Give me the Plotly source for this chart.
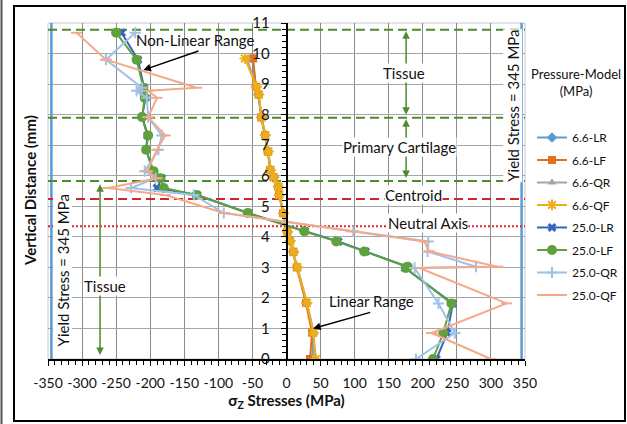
import plotly.graph_objects as go

# ---------------- data ----------------
x_tick_vals = [-350, -300, -250, -200, -150, -100, -50, 0, 50, 100, 150, 200, 250, 300, 350]
x_tick_text = ["-350", "-300", "-250", "-200", "-150", "-100", "-50", "0", "50", "100", "150", "200", "250", "300", "350"]
y_tick_vals = [0, 1, 2, 3, 4, 5, 6, 7, 8, 9, 10, 11]

# 6.6 MPa models (vertical distance, mm)
y_66 = [0, 0.86, 1.84, 3.0, 3.51, 3.86, 4.17, 4.77, 5.37, 5.64, 5.95, 6.19, 6.79, 7.33, 7.91, 8.66, 8.91, 9.84]
s_66_LR = [38, 39, 29, 15.5, 10.5, 5.5, 1.5, -4.5, -10.5, -12.5, -18.5, -23.5, -27, -31.5, -37, -41.5, -45, -50]
s_66_LF = [34.5, 37.5, 28.5, 15, 10, 5, 1, -5, -11, -12, -19, -24, -27.5, -31.5, -37, -41, -45, -49]
s_66_QR = [40, 40, 30, 16, 10.5, 5.5, 1.5, -4.5, -10.5, -12, -18.5, -23.5, -27, -31, -36.5, -41, -44.5, -58]
s_66_QF = [43, 39.5, 30, 16, 10.5, 5.5, 1.5, -4.5, -10.5, -12, -18.5, -23.5, -26.5, -31, -36.5, -40.5, -44, -61]

# 25.0 MPa models
y_25 = [0, 0.85, 1.82, 2.98, 3.02, 3.52, 3.85, 4.18, 4.78, 5.37, 5.6, 5.92, 6.15, 6.85, 7.32, 7.92, 8.55, 8.78, 8.88, 9.8, 10.68]
s_25_LR = [220, 236, 244, 174, 177, 116, 76, 27, -56, -131, -190, -183, -196, -206, -204, -212, -207, -210, -209, -218, -242]
s_25_LF = [215, 230, 242, 175, 178, 114, 73, 26, -57, -132, -180, -185, -195, -206, -203, -212, -208, -211, -210, -220, -250]
s_25_QR = [190, 247, 223, 188, 278, 207, 208, 98, -92, -136, -228, -192, -208, -188, -183, -203, -205, -220, -212, -265, -222]
s_25_QF = [300, 213, 323, 195, 310, 210, 202, 95, -92, -178, -262, -190, -204, -190, -178, -203, -190, -203, -132, -265, -308]

series_names = ["6.6-LR", "6.6-LF", "6.6-QR", "6.6-QF", "25.0-LR", "25.0-LF", "25.0-QR", "25.0-QF"]

# reference levels
yield_stress = 345
region_lines = [10.78, 7.90, 5.83]
centroid_y = 5.24
neutral_y = 4.35

# ---------------- styles ----------------
FONT = "Lato"
styles = [
    dict(color="#5B9BD5", symbol="diamond", size=8),
    dict(color="#E0701E", symbol="square", size=8),
    dict(color="#A5A5A5", symbol="triangle-up", size=8),
    dict(color="#EEAE1A", symbol="asterisk-open", size=9),
    dict(color="#3863BC", symbol="x", size=8),
    dict(color="#5FA13C", symbol="circle", size=10),
    dict(color="#9DC3E6", symbol="cross-thin-open", size=8),
    dict(color="#F4A98A", symbol="line-ew-open", size=8),
]
xs = [s_66_LR, s_66_LF, s_66_QR, s_66_QF, s_25_LR, s_25_LF, s_25_QR, s_25_QF]
ys = [y_66, y_66, y_66, y_66, y_25, y_25, y_25, y_25]

fig = go.Figure()
for i, (name, st) in enumerate(zip(series_names, styles)):
    open_sym = st["symbol"].endswith("open")
    fig.add_trace(go.Scatter(
        x=xs[i], y=ys[i], name=name, mode="lines+markers",
        line=dict(color=st["color"], width=2),
        marker=dict(symbol=st["symbol"], size=st["size"], color=st["color"],
                    line=dict(color=st["color"], width=2 if open_sym else 0)),
        legendgroup=name,
    ))

shapes = []
for xv in (-yield_stress, yield_stress):
    shapes.append(dict(type="line", xref="x", yref="y", x0=xv, x1=xv, y0=0, y1=11,
                       line=dict(color="#5B9BD5", width=2.5), layer="between"))
for yv in region_lines:
    shapes.append(dict(type="line", xref="x", yref="y", x0=-350, x1=350, y0=yv, y1=yv,
                       line=dict(color="#4E8A2E", width=2, dash="9px,5px"), layer="between"))
shapes.append(dict(type="line", xref="x", yref="y", x0=-350, x1=350, y0=centroid_y, y1=centroid_y,
                   line=dict(color="#D0252B", width=2, dash="9px,5px"), layer="between"))
shapes.append(dict(type="line", xref="x", yref="y", x0=-350, x1=350, y0=neutral_y, y1=neutral_y,
                   line=dict(color="#E0262B", width=2, dash="2px,2px"), layer="between"))
shapes.append(dict(type="rect", xref="paper", yref="paper", x0=0, x1=1, y0=0, y1=1,
                   line=dict(color="#C8C8C8", width=1), layer="below"))

W, H = 627, 424
L, R, T, B = 48, 102, 23, 65
pw, ph = W - L - R, H - T - B
def px(xp):
    return (xp - L) / pw
def py(yp):
    return (H - B - yp) / ph
shapes.append(dict(type="rect", xref="paper", yref="paper", x0=px(14), x1=px(625), y0=py(421), y1=py(6),
                   line=dict(color="#000000", width=2), layer="above"))
shapes.append(dict(type="line", xref="paper", yref="paper", x0=px(1.5), x1=px(1.5), y0=py(424), y1=py(0),
                   line=dict(color="#555555", width=2), layer="above"))

ann = []
tf = dict(family=FONT, size=15, color="#111111")
def text(x, y, t, angle=0, bg="white", **kw):
    ann.append(dict(x=x, y=y, xref="x", yref="y", text=t, showarrow=False, font=tf,
                    textangle=angle, bgcolor=bg, borderpad=0,
                    xanchor="center", yanchor="middle", **kw))
def arrow(x, y, ax, ay, color, both=False, width=1.5):
    ann.append(dict(x=x, y=y, ax=ax, ay=ay, xref="x", yref="y", axref="x", ayref="y",
                    text="", showarrow=True, arrowhead=2, arrowsize=1, arrowwidth=width,
                    arrowcolor=color, arrowside="end+start" if both else "end",
                    font=dict(size=1)))

text(-134, 10.43, "Non-Linear Range", bg="rgba(0,0,0,0)")
arrow(-210, 9.46, -127, 10.1, "#000000")
text(124, 1.9, "Linear Range", bg="rgba(0,0,0,0)")
arrow(39, 1.0, 125, 1.54, "#000000")

arrow(175.5, 10.73, 175.5, 7.95, "#4E8A2E", both=True)
arrow(175.5, 7.85, 175.5, 5.88, "#4E8A2E", both=True)
arrow(-273.6, 5.72, -273.6, 0.08, "#4E8A2E", both=True)

text(172, 9.37, "Tissue")
text(166, 6.95, "Primary Cartilage")
text(186, 5.37, "Centroid")
text(208, 4.45, "Neutral Axis")
text(-266, 2.39, "Tissue")
text(-328, 2.9, "Yield Stress = 345 MPa", angle=-90)
text(332, 8.28, "Yield Stress = 345 MPa", angle=-90)

ann.append(dict(x=px(30), y=0.5, xref="paper", yref="paper", text="<b>Vertical Distance (mm)</b>",
                xanchor="center", yanchor="middle",
                showarrow=False, textangle=-90, font=dict(family=FONT, size=15, color="#111111")))
ann.append(dict(x=px(576), y=py(82), xref="paper", yref="paper", text="Pressure-Model<br>(MPa)",
                xanchor="center", yanchor="middle",
                showarrow=False, align="center", font=dict(family=FONT, size=13, color="#111111")))

fig.update_layout(
    width=W, height=H,
    margin=dict(l=L, r=R, t=T, b=B, autoexpand=False),
    paper_bgcolor="white", plot_bgcolor="white",
    font=dict(family=FONT, size=14, color="#111111"),
    shapes=shapes, annotations=ann,
    legend=dict(x=px(532), y=py(123), xanchor="left", yanchor="top",
                font=dict(family=FONT, size=12, color="#111111"),
                tracegroupgap=3.5, bgcolor="rgba(0,0,0,0)"),
    xaxis=dict(range=[-350, 350], tickvals=x_tick_vals, ticktext=x_tick_text,
               showgrid=True, gridcolor="#8C8C8C", gridwidth=1, zeroline=False,
               showline=True, linecolor="#000000", linewidth=1.5,
               ticks="outside", ticklen=5, tickcolor="#000000",
               tickfont=dict(family=FONT, size=14),
               minor=dict(dtick=10, ticks="outside", ticklen=4, tickcolor="#000000", showgrid=False),
               ticklabelstandoff=5,
               title=dict(text="<b>σ<sub>Z</sub> Stresses (MPa)</b>", font=dict(family=FONT, size=15), standoff=6)),
    yaxis=dict(range=[0, 11], tickvals=y_tick_vals, anchor="free", position=0.5,
               showgrid=True, gridcolor="#A6A6A6", gridwidth=1, zeroline=False,
               showline=True, linecolor="#000000", linewidth=1.5,
               ticks="outside", ticklen=5, tickcolor="#000000",
               tickfont=dict(family=FONT, size=15),
               minor=dict(dtick=0.2, ticks="outside", ticklen=4, tickcolor="#000000", showgrid=False),
               ticklabelstandoff=8),
)

fig.write_html("out.html")
